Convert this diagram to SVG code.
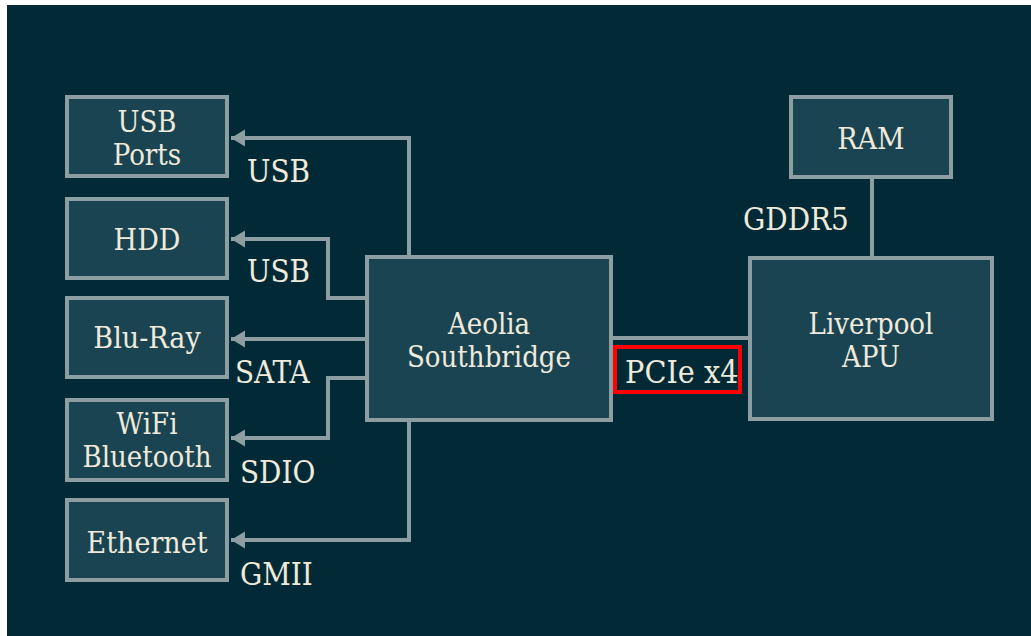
<svg xmlns="http://www.w3.org/2000/svg" width="1031" height="636" viewBox="0 0 1031 636">
<defs>
<style>
.f{font-family:'DejaVu Serif Condensed','DejaVu Serif','Liberation Serif',serif;font-stretch:condensed}
.node rect{fill:#1a4452;stroke:#8d9ea2;stroke-width:4}
.t{font-size:30px;fill:#efeadb;text-anchor:middle}
.t2{font-size:29px}
.l{font-size:31px;fill:#efeadb}
.c{fill:none;stroke:#8d9ea2;stroke-width:4}
</style>
<marker id="ah" markerWidth="16" markerHeight="18" refX="14" refY="8.5" orient="auto" markerUnits="userSpaceOnUse">
<path d="M0,0 L14,8.5 L0,17 Z" fill="#8d9ea2"/>
</marker>
</defs>
<rect x="0" y="0" width="1031" height="636" fill="#ffffff"/>
<rect x="7" y="5" width="1024" height="631" fill="#022a36"/>
<g class="f">
<g id="connectors">
<path class="c" d="M409,257 V138 H231" marker-end="url(#ah)"/>
<path class="c" d="M367,298 H328 V239 H231" marker-end="url(#ah)"/>
<path class="c" d="M367,339 H231" marker-end="url(#ah)"/>
<path class="c" d="M367,378 H328 V438 H231" marker-end="url(#ah)"/>
<path class="c" d="M409,420 V540 H231" marker-end="url(#ah)"/>
<path class="c" d="M611,338 H750"/>
<path class="c" d="M872,177 V258"/>
<text class="l" x="247" y="182">USB</text>
<text class="l" x="247" y="282">USB</text>
<text class="l" x="235" y="383">SATA</text>
<text class="l" x="240" y="483">SDIO</text>
<text class="l" x="240" y="585">GMII</text>
<text class="l" x="743" y="230">GDDR5</text>
<g id="pcie-label">
<rect x="615" y="347" width="125" height="45" fill="#022a36" stroke="#ff0000" stroke-width="4"/>
<text class="l" x="625" y="383" style="font-size:32px">PCIe x4</text>
</g>
</g>
<g id="usb-ports" class="node"><rect x="67" y="97" width="160" height="79"/><text class="t t2" x="147" y="132">USB</text><text class="t t2" x="147" y="165">Ports</text></g>
<g id="hdd" class="node"><rect x="67" y="199" width="160" height="79"/><text class="t" x="147" y="250">HDD</text></g>
<g id="bluray" class="node"><rect x="67" y="298" width="160" height="79"/><text class="t" x="147" y="348">Blu-Ray</text></g>
<g id="wifi" class="node"><rect x="67" y="400" width="160" height="80"/><text class="t t2" x="147" y="434">WiFi</text><text class="t t2" x="147" y="467">Bluetooth</text></g>
<g id="ethernet" class="node"><rect x="67" y="500" width="160" height="80"/><text class="t" x="147" y="553">Ethernet</text></g>
<g id="aeolia" class="node"><rect x="367" y="257" width="244" height="163"/><text class="t t2" x="489" y="334">Aeolia</text><text class="t t2" x="489" y="367">Southbridge</text></g>
<g id="liverpool" class="node"><rect x="750" y="258" width="242" height="161"/><text class="t t2" x="871" y="334">Liverpool</text><text class="t t2" x="871" y="367">APU</text></g>
<g id="ram" class="node"><rect x="791" y="97" width="160" height="80"/><text class="t" x="871" y="149">RAM</text></g>
</g>
</svg>
